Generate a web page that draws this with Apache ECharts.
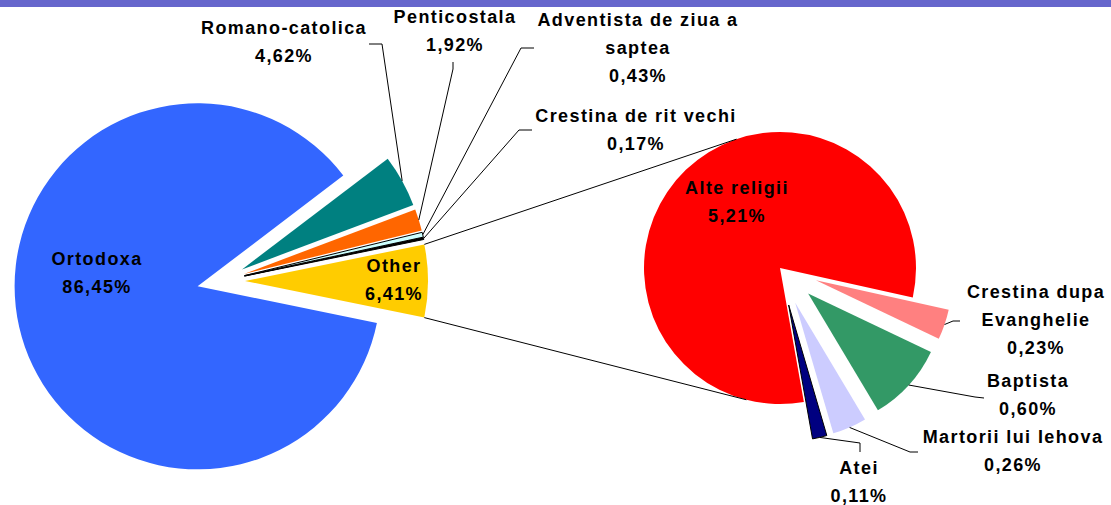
<!DOCTYPE html>
<html>
<head>
<meta charset="utf-8">
<script src="https://cdn.jsdelivr.net/npm/echarts@6/dist/echarts.min.js"></script>
<style>
  html, body { margin: 0; padding: 0; background: #ffffff; }
  #chart { width: 1111px; height: 505px; }
  #chart text { letter-spacing: 1.4px; }
</style>
</head>
<body>
<div id="chart"></div>
<script>
// Primary pie (share of population, %)
const mainNames  = ['Other', 'Crestina de rit vechi', 'Adventista de ziua a saptea', 'Penticostala', 'Romano-catolica', 'Ortodoxa'];
const mainLabels = ['Other', 'Crestina de rit vechi', 'Adventista de ziua a\nsaptea', 'Penticostala', 'Romano-catolica', 'Ortodoxa'];
const mainValues = [6.41, 0.17, 0.43, 1.92, 4.62, 86.45];
const mainColors = ['#FFCC00', '#000000', '#CCFFFF', '#FF6600', '#008080', '#3366FF'];

// Secondary pie: breakdown of "Other" (%)
const otherNames  = ['Crestina dupa Evanghelie', 'Baptista', 'Martorii lui Iehova', 'Atei', 'Alte religii'];
const otherLabels = ['Crestina dupa\nEvanghelie', 'Baptista', 'Martorii lui Iehova', 'Atei', 'Alte religii'];
const otherValues = [0.23, 0.60, 0.26, 0.11, 5.21];
const otherColors = ['#FF8080', '#339966', '#CCCCFF', '#000080', '#FF0000'];

// ---- layout ----
const MAIN = { cx: 221, cy: 281, r: 183, offset: 24, clockwise: false };
const SUB  = { cx: 780, cy: 268, r: 136, offset: 38, clockwise: true, start: -12.5 };
const mainExploded = mainValues.map(() => true);
const subExploded  = otherValues.map((v, i) => i !== otherValues.length - 1);
const outlined = { 'Crestina de rit vechi': 1, 'Adventista de ziua a saptea': 1, 'Atei': 1 };

// label placement: centre of text block, plus leader line [end at label, elbow]
const mainLabelPos = [
  { x: 394, y: 280 },
  { x: 636, y: 130, line: [[532, 130], [519, 130]] },
  { x: 638, y: 48,  line: [[534, 48], [521, 48]] },
  { x: 455, y: 31,  line: [[453, 62], [453, 69]] },
  { x: 284, y: 42,  line: [[369, 44], [382, 44]] },
  { x: 97,  y: 273 }
];
const subLabelPos = [
  { x: 1036, y: 320, line: [[960, 321], [953, 321]] },
  { x: 1028, y: 395, line: [[984, 398], [975, 397]] },
  { x: 1013, y: 451, line: [[918, 452], [910, 452]] },
  { x: 859,  y: 482, line: [[860, 452], [860, 443]] },
  { x: 737,  y: 202 }
];

const FONT = 'bold 18px Arial, "Liberation Sans", sans-serif';
const RAD = Math.PI / 180;
const sum = a => a.reduce((s, v) => s + v, 0);
const pct = v => v.toFixed(2).replace('.', ',') + '%';

MAIN.start = -mainValues[0] / sum(mainValues) * 180;   // "Other" centred on the horizontal

// Geometry of every (possibly exploded) slice, same rules as the pie series
function slices(values, P, exploded) {
  const total = sum(values);
  const dir = P.clockwise ? -1 : 1;
  let acc = 0;
  return values.map((v, i) => {
    const a0 = P.start + dir * acc / total * 360;
    acc += v;
    const a1 = P.start + dir * acc / total * 360;
    const mid = (a0 + a1) / 2;
    const off = exploded[i] ? P.offset : 0;
    const ex = P.cx + off * Math.cos(mid * RAD);
    const ey = P.cy - off * Math.sin(mid * RAD);
    const pt = a => [ex + P.r * Math.cos(a * RAD), ey - P.r * Math.sin(a * RAD)];
    return { a0, a1, mid, arcMid: pt(mid), c0: pt(a0), c1: pt(a1) };
  });
}

// point where a line from p touches circle (c, R), upper or lower side
function tangent(p, c, R, upper) {
  const dx = p[0] - c[0], dy = c[1] - p[1];
  const d = Math.hypot(dx, dy);
  const th = Math.atan2(dy, dx);
  const al = Math.acos(R / d);
  const pts = [th + al, th - al].map(a => [c[0] + R * Math.cos(a), c[1] - R * Math.sin(a)]);
  pts.sort((A, B) => A[1] - B[1]);
  return upper ? pts[0] : pts[1];
}

function pieData(names, values, colors, exploded) {
  return names.map((n, i) => {
    const st = { color: colors[i], borderColor: '#000000', borderWidth: outlined[n] ? 1 : 0 };
    return { name: n, value: values[i], selected: exploded[i], itemStyle: st, select: { itemStyle: st } };
  });
}

const mainGeo = slices(mainValues, MAIN, mainExploded);
const subGeo  = slices(otherValues, SUB, subExploded);

const graphics = [
  { type: 'rect', shape: { x: 0, y: 0, width: 1111, height: 7 }, style: { fill: '#6666CC' }, z: 10 }
];

// connector lines from the "Other" slice to the secondary pie
const og = mainGeo[0];
const upper = og.c0[1] < og.c1[1] ? og.c0 : og.c1;
const lower = og.c0[1] < og.c1[1] ? og.c1 : og.c0;
[[upper, true], [lower, false]].forEach(([p, up]) => {
  const t = tangent(p, [SUB.cx, SUB.cy], SUB.r, up);
  graphics.push({
    type: 'line', z: 5,
    shape: { x1: p[0], y1: p[1], x2: t[0], y2: t[1] },
    style: { stroke: '#000000', lineWidth: 1 }
  });
});

function addLabels(labels, values, geo, pos) {
  labels.forEach((lab, i) => {
    const p = pos[i];
    graphics.push({
      type: 'text', x: p.x, y: p.y, z: 20,
      style: {
        text: lab + '\n' + pct(values[i]), font: FONT, fill: '#000000',
        align: 'center', verticalAlign: 'middle', textAlign: 'center', textVerticalAlign: 'middle',
        lineHeight: 28
      }
    });
    if (p.line) {
      graphics.push({
        type: 'polyline', z: 15,
        shape: { points: [p.line[0], p.line[1], geo[i].arcMid] },
        style: { stroke: '#000000', lineWidth: 1, fill: null }
      });
    }
  });
}
addLabels(mainLabels, mainValues, mainGeo, mainLabelPos);
addLabels(otherLabels, otherValues, subGeo, subLabelPos);

const chart = echarts.init(document.getElementById('chart'), null, { renderer: 'svg' });
chart.setOption({
  backgroundColor: '#ffffff',
  animation: false,
  series: [
    {
      type: 'pie', silent: true,
      center: [MAIN.cx, MAIN.cy], radius: MAIN.r,
      startAngle: MAIN.start, clockwise: MAIN.clockwise,
      selectedMode: 'multiple', selectedOffset: MAIN.offset,
      label: { show: false }, labelLine: { show: false },
      data: pieData(mainNames, mainValues, mainColors, mainExploded)
    },
    {
      type: 'pie', silent: true,
      center: [SUB.cx, SUB.cy], radius: SUB.r,
      startAngle: SUB.start, clockwise: SUB.clockwise,
      selectedMode: 'multiple', selectedOffset: SUB.offset,
      label: { show: false }, labelLine: { show: false },
      data: pieData(otherNames, otherValues, otherColors, subExploded)
    }
  ],
  graphic: graphics
});
</script>
</body>
</html>
